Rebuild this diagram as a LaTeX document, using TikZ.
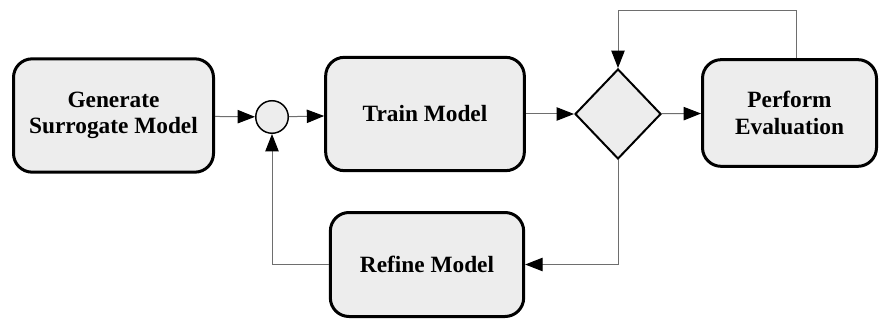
\documentclass[tikz,border=0pt]{standalone}
\usepackage{fontspec}
\setmainfont{Liberation Serif}
\usetikzlibrary{positioning,arrows.meta,shapes.geometric,calc}
\definecolor{boxgray}{HTML}{EDEDED}
\definecolor{linegray}{HTML}{6E6E6E}

\begin{document}
\begin{tikzpicture}[x=0.75pt,y=-0.75pt,
  block/.style={draw,line width=2.25pt,fill=boxgray,rounded corners=14pt,align=center,
    font=\fontsize{17.5}{20}\selectfont\bfseries,inner sep=0pt},
  junc/.style={circle,draw,line width=1.1pt,fill=boxgray,minimum size=24.4pt,inner sep=0pt},
  decide/.style={diamond,draw,line width=1.5pt,fill=boxgray,minimum width=64.5pt,minimum height=67.5pt,inner sep=0pt},
  flow/.style={draw=linegray,line width=0.75pt,-{Triangle[length=13pt,width=10pt,color=black]}}]
\fill[white] (0,0) rectangle (880,320);
\useasboundingbox (0,0) rectangle (880,320);
% blocks
\node[block,minimum width=150pt,minimum height=85pt] (gen) at (113.5,115.5) {Generate\\Surrogate Model};
\node[junc] (sum) at (272,117) {};
\node[block,minimum width=149pt,minimum height=85pt] (train) at (425,114) {Train Model};
\node[decide] (dec) at (618,114) {};
\node[block,minimum width=130.5pt,minimum height=80pt] (perf) at (789.5,113) {Perform\\Evaluation};
\node[block,minimum width=145pt,minimum height=78pt] (refine) at (427,264.5) {Refine Model};
% connectors
\draw[flow] (gen) -- (sum);
\draw[flow] (sum) -- (train);
\draw[flow] (train) -- (dec);
\draw[flow] (dec) -- (perf);
\coordinate (loop) at ($(perf.north)+(6.5,-48)$);
\draw[flow] ($(perf.north)+(6.5,0)$) -- (loop) -| (dec.north);
\draw[flow] (dec.south) |- (refine.east);
\draw[flow] (refine.west) -| (sum.south);
\end{tikzpicture}
\end{document}
